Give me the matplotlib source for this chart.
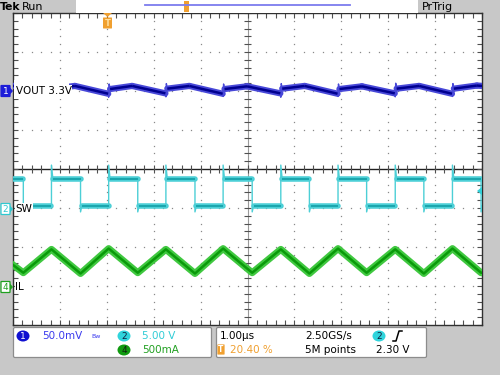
import numpy as np
import matplotlib
matplotlib.use("Agg")
import matplotlib.pyplot as plt
from matplotlib.patches import FancyBboxPatch, Ellipse, Polygon

# ---- scope settings ----
t_left_us = -2.04          # trigger at 20.40 % of the 10 div record
us_per_div = 1.0
ch1_offset_div, ch1_mv_per_div = 2.0, 50.0
ch2_offset_div, ch2_v_per_div = -1.0, 5.0
ch4_offset_div, ch4_a_per_div = -3.0, 0.5

# ---- VOUT ripple, mV around 3.3 V (vertices) ----
vout_t = [-2.04, -1.74, -1.22, -1.22, -1.21, -1.19, -0.72, -0.01, 0.00, 0.01, 0.03,
          0.50, 1.21, 1.22, 1.23, 1.25, 1.72, 2.43, 2.44, 2.45, 2.47, 2.95,
          3.66, 3.67, 3.68, 3.70, 4.18, 4.88, 4.89, 4.90, 4.92, 5.40,
          6.10, 6.11, 6.12, 6.14, 6.62, 7.32, 7.33, 7.34, 7.36, 7.85, 7.96]
vout_mv = [6.5, 5.5, -3.0, -7.0, 9.5, 3.0, 6.5, -3.5, -8.0, 9.0, 2.5,
           6.5, -3.0, -7.5, 9.5, 3.0, 6.5, -3.5, -7.0, 9.0, 2.5, 6.0,
           -3.0, -8.0, 9.5, 3.0, 6.5, -3.5, -7.0, 9.0, 2.5, 6.0,
           -3.0, -7.5, 10.0, 3.0, 6.5, -3.5, -7.0, 9.5, 3.0, 7.0, 6.5]

# ---- SW node, edges in us and levels in V ----
sw_rise_us = [-1.22, 0.00, 1.22, 2.44, 3.67, 4.89, 6.11, 7.33]
sw_fall_us = [-1.82, -0.60, 0.62, 1.84, 3.06, 4.28, 5.50, 6.72, 7.94]
sw_high_v = 3.7
sw_low_v = 0.3
sw_spike_v = 5.5
sw_dip_v = -0.5

# ---- inductor current, A (peaks and valleys) ----
il_t = [-2.04, -1.82, -1.22, -0.60, 0.00, 0.62, 1.22, 1.84, 2.44, 3.06,
        3.67, 4.28, 4.89, 5.50, 6.11, 6.72, 7.33, 7.94, 7.96]
il_a = [0.27, 0.17, 0.47, 0.16, 0.48, 0.17, 0.47, 0.16, 0.48, 0.17,
        0.47, 0.16, 0.48, 0.17, 0.47, 0.16, 0.48, 0.17, 0.17]

GRAY = '#c8c8c8'
fig = plt.figure(figsize=(5, 3.75), dpi=100)
fig.patch.set_facecolor(GRAY)

ax = fig.add_axes([13 / 500, 1 - 325 / 375, 469 / 500, 312 / 375])
ax.set_facecolor('white')
x0, x1 = t_left_us, t_left_us + 10 * us_per_div
ax.set_xlim(x0, x1)
ax.set_ylim(-4, 4)
for s in ax.spines.values():
    s.set_color('#303030')
    s.set_linewidth(1)
ax.set_xticks(np.arange(x0, x1 + 0.01, 0.2))
ax.set_yticks(np.arange(-4, 4.01, 0.2))
ax.tick_params(direction='in', length=3.5, width=0.8, color='#505050',
               top=True, right=True, labelleft=False, labelbottom=False)

# dotted graticule
ys = np.arange(-4, 4.01, 0.2)
xs = np.arange(x0, x1 + 0.01, 0.2)
for k in range(1, 10):
    if k != 5:
        ax.plot(np.full(len(ys), x0 + k), ys, ls='none', marker='s', ms=0.9,
                color='#8a8a8a', mew=0)
for k in range(-3, 4):
    if k != 0:
        ax.plot(xs, np.full(len(xs), k), ls='none', marker='s', ms=0.9,
                color='#8a8a8a', mew=0)
xc = x0 + 5
ax.axhline(0, color='#202020', lw=1, zorder=1)
ax.axvline(xc, color='#9a9a9a', lw=0.8, zorder=1)
ax.vlines(xs, -0.09, 0.09, color='#505050', lw=0.8)
ax.hlines(ys, xc - 0.08, xc + 0.08, color='#505050', lw=0.8)


def band(t, y, halo, core, hw, cw):
    # thin line for the whole trace, noisy-looking band on the slow parts
    ax.plot(t, y, color=halo, lw=1, zorder=3)
    for i in range(len(t) - 1):
        if t[i + 1] - t[i] > 0.1:
            ax.plot(t[i:i + 2], y[i:i + 2], color=halo, lw=hw,
                    solid_capstyle='round', zorder=3)
    for i in range(len(t) - 1):
        if t[i + 1] - t[i] > 0.1:
            ax.plot(t[i:i + 2], y[i:i + 2], color=core, lw=cw,
                    solid_capstyle='butt', zorder=4)


# IL trace
il_y = [ch4_offset_div + a / ch4_a_per_div for a in il_a]
ax.plot(il_t, il_y, color='#40c840', lw=5, zorder=3)
ax.plot(il_t, il_y, color='#0a9a0a', lw=1.8, zorder=4)

# SW trace
sw_t, sw_v = [x0], [sw_high_v]
edges = sorted([(t, 'f') for t in sw_fall_us] + [(t, 'r') for t in sw_rise_us])
for t, kind in edges:
    if kind == 'r':
        sw_t += [t, t, t + 0.03]
        sw_v += [sw_low_v, sw_spike_v, sw_high_v]
    else:
        sw_t += [t, t, t + 0.03]
        sw_v += [sw_high_v, sw_dip_v, sw_low_v]
sw_t.append(x1)
sw_v.append(sw_v[-1])
sw_y = [ch2_offset_div + v / ch2_v_per_div for v in sw_v]
band(sw_t, sw_y, '#4ccfd6', '#139ea6', 4, 1.2)

# VOUT trace
vo_y = [ch1_offset_div + mv / ch1_mv_per_div for mv in vout_mv]
band(vout_t, vo_y, '#4848d8', '#000090', 4.5, 1.8)

# ---- overlay in pixel coordinates ----
ov = fig.add_axes([0, 0, 1, 1], zorder=5)
ov.set_xlim(0, 500)
ov.set_ylim(375, 0)
ov.axis('off')
ov.patch.set_alpha(0)

# header
ov.text(0, 6.5, 'Tek', fontsize=7.8, fontweight='bold', va='center')
ov.text(22, 6.5, 'Run', fontsize=8, va='center')
ov.add_patch(plt.Rectangle((76, 0), 342, 12.5, fc='white', ec='none'))
ov.plot([145, 350], [5, 5], color='#7c7cee', lw=1.3)
ov.add_patch(plt.Rectangle((183.5, 1), 5, 11, fc='#f0a030', ec='none'))
ov.text(422, 6.5, 'PrTrig', fontsize=8, va='center')

# trigger position marker
ov.add_patch(Polygon([[103, 13], [112, 13], [107.5, 17]], fc='#f0a030', ec='none'))
ov.add_patch(FancyBboxPatch((103.5, 18), 8, 10, boxstyle='round,pad=0.5',
                            fc='#f0a030', ec='none'))
ov.text(107.5, 23.5, 'T', fontsize=6, color='#ffe0a0', ha='center', va='center',
        fontweight='bold')

# trigger level marker
ov.add_patch(Polygon([[477, 191], [482, 187], [482, 195]], fc='#30d0d8', ec='none'))

# channel labels
ov.add_patch(plt.Rectangle((14, 80), 55, 19, fc='white', ec='none'))
for y, txt in [(91, 'VOUT 3.3V'), (209, 'SW'), (287, 'IL')]:
    ov.text(15.5, y, txt, fontsize=7.5, va='center', ha='left',
            bbox=dict(fc='white', ec='none', pad=0.6))


def ch_marker(y, num, fc, ec, tc):
    ov.add_patch(FancyBboxPatch((1.5, y - 5), 8, 10, boxstyle='round,pad=0.5',
                                fc=fc, ec=ec, lw=0.9))
    ov.add_patch(Polygon([[10, y - 3.5], [13, y], [10, y + 3.5]], fc=ec, ec='none'))
    ov.text(5.5, y + 0.5, num, fontsize=6.5, color=tc, ha='center', va='center')


ch_marker(91, '1', '#1c1cd8', '#1c1cd8', 'white')
ch_marker(209, '2', 'white', '#30c8d0', '#30c8d0')
ch_marker(287, '4', 'white', '#20a020', '#20a020')

# bottom readout boxes
ov.add_patch(FancyBboxPatch((15, 329), 195, 27, boxstyle='round,pad=1.5',
                            fc='white', ec='#8c8c8c', lw=0.9))
ov.add_patch(FancyBboxPatch((218, 329), 207, 27, boxstyle='round,pad=1.5',
                            fc='white', ec='#8c8c8c', lw=0.9))


def ch_badge(x, y, num, fc, tc):
    ov.add_patch(Ellipse((x, y), 13, 11, fc=fc, ec='none'))
    ov.text(x, y + 0.5, num, fontsize=6.5, color=tc, ha='center', va='center')


r1, r2 = 336, 350
fs = 7.5
ch_badge(23, r1, '1', '#1010d0', 'white')
ov.text(42, r1, '50.0mV', fontsize=fs, color='#3a3aee', va='center')
ov.text(91, r1, 'Bw', fontsize=4.5, color='#3a3aee', va='center')
ch_badge(124, r1, '2', '#30d4dc', '#102040')
ov.text(142, r1, '5.00 V', fontsize=fs, color='#30ccd6', va='center')
ch_badge(124, r2, '4', '#109a10', '#102010')
ov.text(142, r2, '500mA', fontsize=fs, color='#22a022', va='center')

ov.text(220, r1, '1.00\u00b5s', fontsize=fs, va='center')
ov.text(305, r1, '2.50GS/s', fontsize=fs, va='center')
ch_badge(379, r1, '2', '#30d4dc', '#102040')
ov.plot([393, 396, 399, 402], [341, 341, 331, 331], color='black', lw=1.1)
ov.add_patch(FancyBboxPatch((218, 345), 6, 9, boxstyle='round,pad=0.6',
                            fc='#f0a030', ec='none'))
ov.text(221, r2, 'T', fontsize=5.5, color='white', ha='center', va='center',
        fontweight='bold')
ov.text(230, r2, '20.40 %', fontsize=fs, color='#f0a030', va='center')
ov.text(305, r2, '5M points', fontsize=fs, va='center')
ov.text(376, r2, '2.30 V', fontsize=fs, va='center')

fig.savefig('out.png', dpi=100, facecolor=GRAY)
